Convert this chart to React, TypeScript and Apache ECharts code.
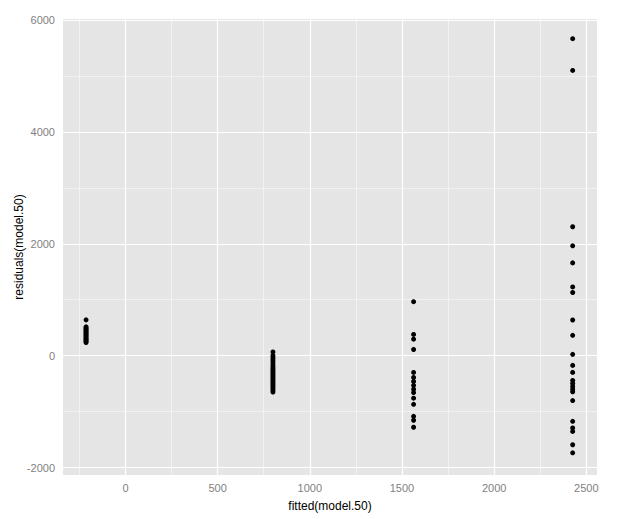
import React, { useEffect, useRef } from "react";
import * as echarts from "echarts";

// Fitted values (x) of the four groups
const fittedLevels = [-214, 800, 1563, 2426];

// Residuals for each fitted group
const residualsGroup1 = [640, 515, 495, 475, 455, 435, 415, 395, 375, 355, 335, 315, 295, 275, 255, 235];
const residualsGroup2 = [65, 0, -40, -80, -120, -160, -195, -225, -255, -285, -315, -345, -375, -405, -435, -465, -495, -525, -555, -585, -615, -650];
const residualsGroup3 = [965, 380, 295, 110, -300, -390, -460, -530, -600, -660, -760, -870, -1085, -1155, -1280];
const residualsGroup4 = [5668, 5100, 2305, 1964, 1659, 1229, 1129, 638, 364, 23, -174, -299, -443, -496, -550, -599, -645, -803, -1174, -1292, -1355, -1593, -1737];

const xTicks = [0, 500, 1000, 1500, 2000, 2500];
const yTicks = [-2000, 0, 2000, 4000, 6000];
const xMinor = [-250, 250, 750, 1250, 1750, 2250];
const yMinor = [-1000, 1000, 3000, 5000];

const xRange = [-339, 2558];
const yRange = [-2134, 6020];

export default function App() {
  const ref = useRef<HTMLDivElement>(null);
  useEffect(() => {
    if (!ref.current) return;
    const chart = echarts.init(ref.current, undefined, { renderer: "svg" });
    const groups = [residualsGroup1, residualsGroup2, residualsGroup3, residualsGroup4];
    const points: number[][] = [];
    groups.forEach((g, i) => g.forEach((r) => points.push([fittedLevels[i], r])));

    const minorLines = [
      ...xMinor.map((v) => ({ xAxis: v })),
      ...yMinor.map((v) => ({ yAxis: v })),
    ];
    const majorLines = [
      ...xTicks.map((v) => ({ xAxis: v })),
      ...yTicks.map((v) => ({ yAxis: v })),
    ];

    const font = "Liberation Sans, Arial, sans-serif";
    const fmt = (v: number) => String(v);
    chart.setOption({
      animation: false,
      grid: {
        left: 63,
        right: 20,
        top: 19,
        bottom: 44,
        show: true,
        backgroundColor: "#E5E5E5",
        borderWidth: 0,
        containLabel: false,
        outerBoundsMode: "none",
      },
      xAxis: {
        type: "value",
        min: xRange[0],
        max: xRange[1],
        name: "fitted(model.50)",
        nameLocation: "middle",
        nameGap: 25,
        nameMoveOverlap: false,
        nameTextStyle: { color: "#000", fontSize: 12, fontFamily: font },
        axisLine: { show: false },
        axisTick: { show: true, customValues: xTicks, length: 4, lineStyle: { color: "#7F7F7F" } },
        axisLabel: { customValues: xTicks, formatter: fmt, color: "#7F7F7F", fontSize: 11, fontFamily: font, margin: 7 },
        splitLine: { show: false },
      },
      yAxis: {
        type: "value",
        min: yRange[0],
        max: yRange[1],
        name: "residuals(model.50)",
        nameLocation: "middle",
        nameGap: 38,
        nameMoveOverlap: false,
        nameTextStyle: { color: "#000", fontSize: 12, fontFamily: font },
        axisLine: { show: false },
        axisTick: { show: true, customValues: yTicks, length: 4, lineStyle: { color: "#7F7F7F" } },
        axisLabel: { customValues: yTicks, formatter: fmt, color: "#7F7F7F", fontSize: 11, fontFamily: font, margin: 8 },
        splitLine: { show: false },
      },
      series: [
        {
          type: "scatter",
          data: [],
          silent: true,
          z: 1,
          markLine: {
            silent: true,
            symbol: "none",
            label: { show: false },
            lineStyle: { color: "#F2F2F2", width: 1, type: "solid" },
            data: minorLines,
          },
        },
        {
          type: "scatter",
          data: [],
          silent: true,
          z: 2,
          markLine: {
            silent: true,
            symbol: "none",
            label: { show: false },
            lineStyle: { color: "#FFFFFF", width: 1.2, type: "solid" },
            data: majorLines,
          },
        },
        {
          type: "scatter",
          data: points,
          z: 5,
          symbol: "circle",
          symbolSize: 5,
          itemStyle: { color: "#000000", opacity: 1 },
        },
      ],
    });
    return () => chart.dispose();
  }, []);
  return <div ref={ref} style={{ width: 617, height: 519, position: "absolute", left: 0, top: 0 }} />;
}
